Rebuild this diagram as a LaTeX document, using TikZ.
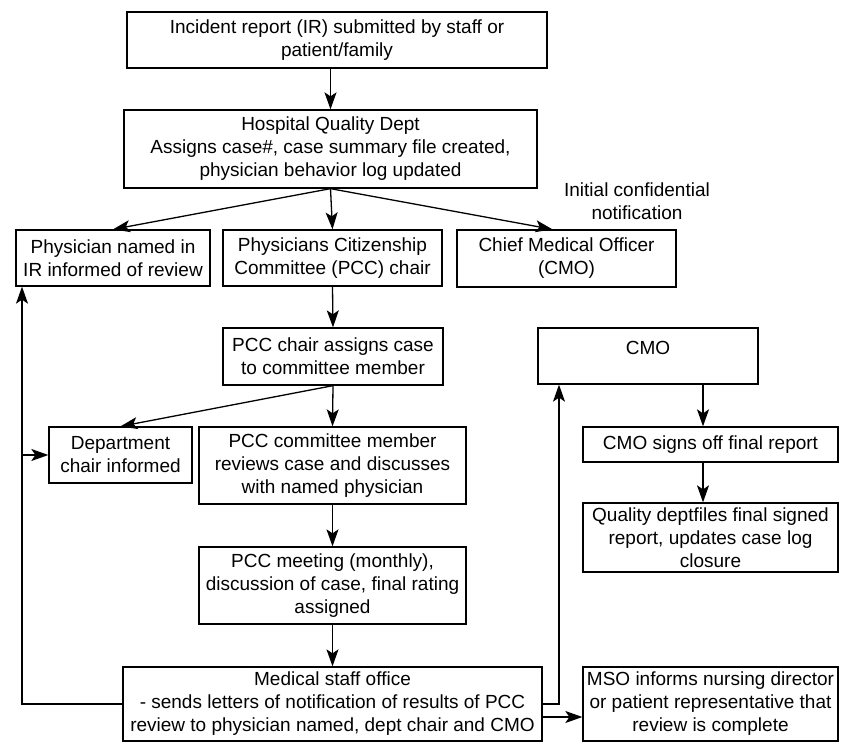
\documentclass[tikz,border=0pt]{standalone}
\usepackage{fontspec}
\setmainfont{Liberation Sans}
\usetikzlibrary{arrows.meta}
\newcommand\figfont{\fontsize{19}{23}\selectfont}
\tikzset{
  box/.style={draw, line width=1.3pt, inner sep=2pt, align=center, font=\figfont},
  arr/.style={line width=1.3pt, -{Stealth[length=17pt,width=12pt,inset=4pt]}},
  ln/.style={line width=1.3pt}
}
\begin{document}
\begin{tikzpicture}[x=1pt,y=-1pt]
\useasboundingbox (0,0) rectangle (841,744);
\node[box, minimum width=420, minimum height=56] (ir) at (337,40) {Incident report (IR) submitted by staff or\\patient/family};
\node[box, minimum width=413, minimum height=78] (hqd) at (330.5,149) {Hospital Quality Dept\\Assigns case\#, case summary file created,\\physician behavior log updated};
\node[box, minimum width=194, minimum height=56] (phys) at (113,258) {Physician named in\\IR informed of review};
\node[box, minimum width=219, minimum height=56] (pccchair) at (332.5,258) {Physicians Citizenship\\Committee (PCC) chair};
\node[box, minimum width=219, minimum height=57] (chief) at (566.5,258.5) {Chief Medical Officer\\(CMO)};
\node[align=center, font=\figfont, inner sep=0pt] (note) at (637,201) {Initial confidential\\notification};
\node[box, minimum width=220, minimum height=57] (assign) at (333,356.5) {PCC chair assigns case\\to committee member};
\node[box, minimum width=143, minimum height=56] (dept) at (120.5,455) {Department\\chair informed};
\node[box, minimum width=267, minimum height=77] (member) at (332.5,465.5) {PCC committee member\\reviews case and discusses\\with named physician};
\node[box, minimum width=267, minimum height=77] (meeting) at (332.5,585.5) {PCC meeting (monthly),\\discussion of case, final rating\\assigned};
\node[box, minimum width=419, minimum height=74] (mso) at (332.5,704) {Medical staff office\\- sends letters of notification of results of PCC\\review to physician named, dept chair and CMO};
\node[box, minimum width=255, minimum height=74] (msoinf) at (710.5,704) {MSO informs nursing director\\or patient representative that\\review is complete};
\node[box, minimum width=220, minimum height=56, inner ysep=3pt, text height=23pt, text depth=26pt] (cmo) at (648,356) {CMO};
\node[box, minimum width=255, minimum height=35] (signs) at (710.5,444.5) {CMO signs off final report};
\node[box, minimum width=255, minimum height=69] (quality) at (710.5,537.5) {Quality deptfiles final signed\\report, updates case log\\closure};
\coordinate (lx) at (22,0);
\coordinate (rx) at (559,0);
\coordinate (cx) at (703,0);
\draw[arr] (ir.south -| hqd.north) -- (hqd.north);
\draw[arr] (hqd.south) -- (phys.north);
\draw[arr] (hqd.south) -- (pccchair.north);
\draw[arr] (hqd.south) -- ([xshift=-14pt]chief.north);
\draw[arr] (pccchair.south) -- (assign.north);
\draw[arr] (assign.south) -- (dept.north);
\draw[arr] (assign.south) -- (member.north);
\draw[arr] (member.south) -- (meeting.north);
\draw[arr] (meeting.south) -- (mso.north);
\draw[arr] (mso.west) -- (mso.west -| lx) -- (lx |- phys.south);
\draw[arr] (lx |- dept.west) -- (dept.west);
\draw[arr] (mso.east) -- (mso.east -| rx) -- (rx |- cmo.south);
\draw[arr] ([yshift=-13pt]mso.east) -- ([yshift=-13pt]mso.east -| msoinf.west);
\draw[arr] (cmo.south -| cx) -- (cx |- signs.north);
\draw[arr] (signs.south -| cx) -- (cx |- quality.north);
\end{tikzpicture}
\end{document}
